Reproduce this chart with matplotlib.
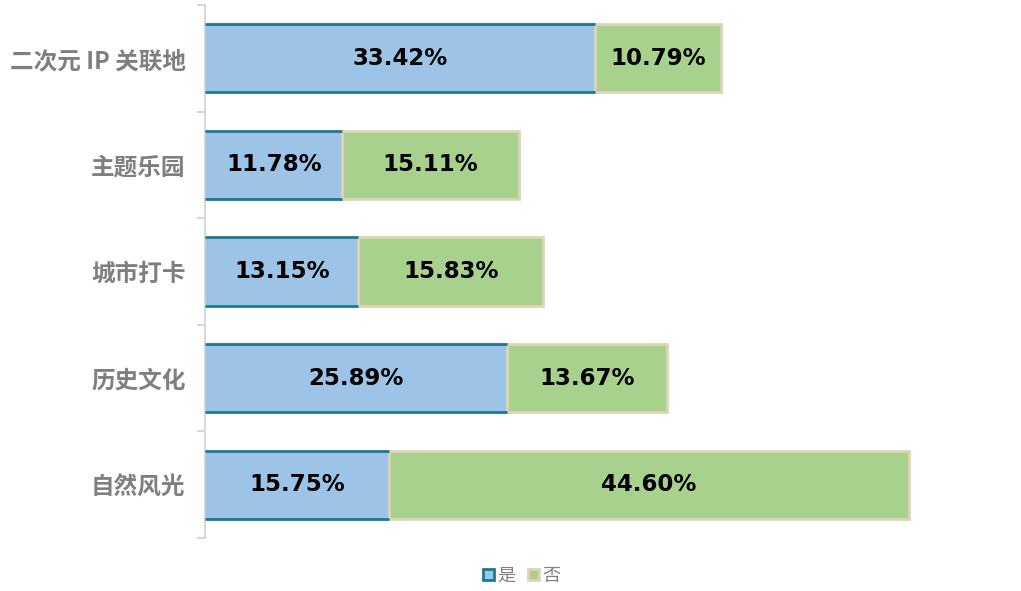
import matplotlib
matplotlib.use("Agg")
import matplotlib.pyplot as plt
from matplotlib.patches import Patch
import numpy as np

plt.rcParams['font.family'] = ['Noto Sans CJK SC', 'DejaVu Sans']

categories = ["二次元 IP 关联地", "主题乐园", "城市打卡", "历史文化", "自然风光"]
yes_vals = [33.42, 11.78, 13.15, 25.89, 15.75]
no_vals = [10.79, 15.11, 15.83, 13.67, 44.60]
series_names = ["是", "否"]

blue_fill = "#9DC3E6"
blue_edge = "#1B7A8F"
green_fill = "#A9D18E"
green_edge = "#DDD5B4"
gray = "#7F7F7F"

fig = plt.figure(figsize=(10.21, 5.91), dpi=100)
W, H = 1021, 591
ax = fig.add_axes([205 / W, (H - 538) / H, 817 / W, 533 / H])

n = len(categories)
y = np.arange(n)
h = 0.64

ax.barh(y, yes_vals, height=h, color=blue_fill, edgecolor="none", zorder=2)
ax.hlines(y - h / 2, 0, yes_vals, colors=blue_edge, linewidth=2, zorder=3)
ax.hlines(y + h / 2, 0, yes_vals, colors=blue_edge, linewidth=2, zorder=3)
ax.barh(y, no_vals, left=yes_vals, height=h, color=green_fill,
        edgecolor=green_edge, linewidth=2, zorder=2)

for i in range(n):
    ax.text(yes_vals[i] / 2, y[i], f"{yes_vals[i]:.2f}%", ha="center", va="center",
            fontsize=16.5, fontweight="bold", family="DejaVu Sans", color="black", zorder=4)
    ax.text(yes_vals[i] + no_vals[i] / 2, y[i], f"{no_vals[i]:.2f}%", ha="center",
            va="center", fontsize=16.5, fontweight="bold", family="DejaVu Sans",
            color="black", zorder=4)

ax.set_xlim(0, 70)
ax.set_ylim(n - 0.5, -0.5)

ax.set_yticks(y)
ax.set_yticklabels(categories, fontsize=17, fontweight="black", color=gray)
ax.tick_params(axis="y", which="major", length=0, pad=14)
ax.set_yticks(np.arange(n + 1) - 0.5, minor=True)
ax.tick_params(axis="y", which="minor", length=6, color="#D0D0D0", width=1.2)
ax.set_xticks([])

for s in ["top", "right", "bottom"]:
    ax.spines[s].set_visible(False)
ax.spines["left"].set_color("#D0D0D0")
ax.spines["left"].set_linewidth(1.2)

handles = [Patch(facecolor=blue_fill, edgecolor=blue_edge, linewidth=2),
           Patch(facecolor=green_fill, edgecolor=green_edge, linewidth=2)]
fig.legend(handles, series_names, loc="center", bbox_to_anchor=(522 / W, 1 - 576 / H),
           ncol=2, frameon=False, fontsize=13, labelcolor=gray,
           handlelength=0.6, handleheight=0.6, handletextpad=0.2, columnspacing=0.7)

fig.savefig("out.png", dpi=100)
